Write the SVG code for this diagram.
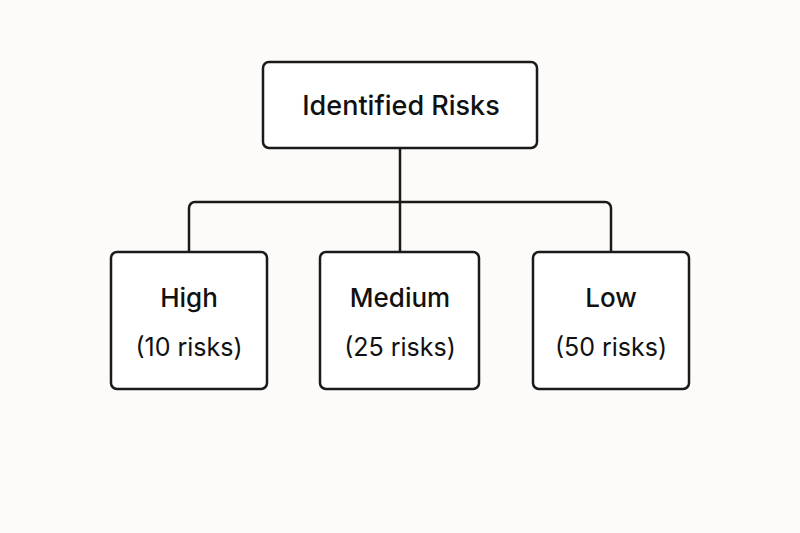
<svg xmlns="http://www.w3.org/2000/svg" width="800" height="533" viewBox="0 0 800 533">
<style>
.box{fill:#fff;stroke:#1a1a1a;stroke-width:2.5}
.t{font-family:Inter,"Liberation Sans",sans-serif;fill:#111;text-anchor:middle}
.c{fill:none;stroke:#1a1a1a;stroke-width:2.5}
</style>
<rect width="800" height="533" fill="#fcfbf9"/>
<g id="connectors">
<path class="c" d="M400 148V252M189 252V208a6 6 0 0 1 6-6H605a6 6 0 0 1 6 6V252"/>
</g>
<g id="root"><rect class="box" x="263" y="62" width="274" height="86" rx="6"/><text class="t" x="401" y="115" font-size="27" font-weight="500">Identified Risks</text></g>
<g id="high"><rect class="box" x="111" y="252" width="156" height="137" rx="6"/><text class="t" x="189" y="307" font-size="26" font-weight="500">High</text><text class="t" x="189" y="356" font-size="25">(10 risks)</text></g>
<g id="medium"><rect class="box" x="320" y="252" width="159" height="137" rx="6"/><text class="t" x="400" y="307" font-size="26" font-weight="500">Medium</text><text class="t" x="400" y="356" font-size="25">(25 risks)</text></g>
<g id="low"><rect class="box" x="533" y="252" width="156" height="137" rx="6"/><text class="t" x="611" y="307" font-size="26" font-weight="500">Low</text><text class="t" x="611" y="356" font-size="25">(50 risks)</text></g>
</svg>
